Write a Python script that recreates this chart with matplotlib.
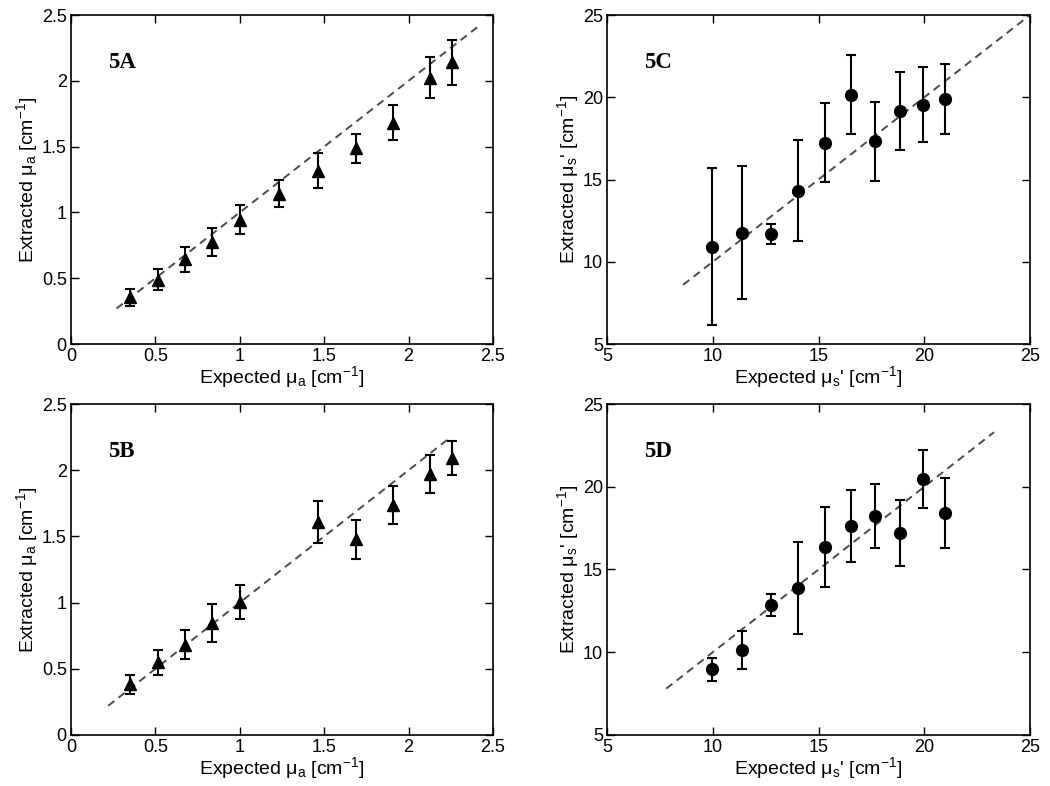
import numpy as np
import matplotlib
matplotlib.use("Agg")
import matplotlib.pyplot as plt

plt.rcParams['font.family'] = ['Liberation Sans', 'DejaVu Sans']
plt.rcParams['mathtext.fontset'] = 'custom'
plt.rcParams['mathtext.rm'] = 'Liberation Sans'
plt.rcParams['mathtext.it'] = 'Liberation Sans'

# Panel 5A: absorption, triangles
a_x = [0.347, 0.513, 0.678, 0.838, 1.0, 1.234, 1.461, 1.688, 1.909, 2.125, 2.259]
a_y = [0.355, 0.488, 0.643, 0.774, 0.944, 1.143, 1.318, 1.487, 1.683, 2.025, 2.142]
a_err = [0.066, 0.081, 0.094, 0.105, 0.111, 0.100, 0.135, 0.109, 0.134, 0.157, 0.170]
a_line = [0.27, 2.42]

# Panel 5B: absorption, triangles
b_x = [0.347, 0.513, 0.678, 0.838, 1.0, 1.461, 1.688, 1.909, 2.125, 2.259]
b_y = [0.384, 0.549, 0.683, 0.848, 1.003, 1.607, 1.480, 1.737, 1.970, 2.095]
b_err = [0.071, 0.095, 0.111, 0.145, 0.129, 0.158, 0.147, 0.147, 0.144, 0.129]
b_line = [0.22, 2.25]

# Panel 5C: scattering, circles
c_x = [9.98, 11.38, 12.75, 14.02, 15.31, 16.54, 17.68, 18.86, 19.93, 20.98]
c_y = [10.91, 11.77, 11.69, 14.33, 17.24, 20.16, 17.34, 19.18, 19.55, 19.88]
c_err = [4.78, 4.06, 0.62, 3.06, 2.40, 2.41, 2.40, 2.36, 2.27, 2.14]
c_line = [8.6, 25.0]

# Panel 5D: scattering, circles
d_x = [9.98, 11.38, 12.75, 14.02, 15.31, 16.54, 17.68, 18.86, 19.93, 20.98]
d_y = [8.96, 10.14, 12.85, 13.89, 16.36, 17.63, 18.25, 17.20, 20.47, 18.41]
d_err = [0.72, 1.13, 0.65, 2.80, 2.39, 2.15, 1.93, 2.00, 1.73, 2.09]
d_line = [7.8, 23.3]

fig = plt.figure(figsize=(10.5, 7.86), dpi=100)

# positions in figure fraction
boxes = {
    "A": [0.0676, 0.5623, 0.4019, 0.4186],
    "C": [0.5781, 0.5623, 0.4029, 0.4186],
    "B": [0.0676, 0.0649, 0.4019, 0.4211],
    "D": [0.5781, 0.0649, 0.4029, 0.4211],
}

panels = [
    ("A", a_x, a_y, a_err, a_line, "^", "mu_a"),
    ("C", c_x, c_y, c_err, c_line, "o", "mu_s"),
    ("B", b_x, b_y, b_err, b_line, "^", "mu_a"),
    ("D", d_x, d_y, d_err, d_line, "o", "mu_s"),
]

for name, x, y, err, line, marker, kind in panels:
    ax = fig.add_axes(boxes[name])
    ax.plot(line, line, linestyle=(0, (4, 2.8)), color='#4a4a4a', linewidth=1.4, zorder=1)
    ax.errorbar(x, y, yerr=err, fmt=marker, color='black', ecolor='black',
                markersize=9 if marker == "^" else 8.5, elinewidth=1.5,
                capsize=3.5, capthick=1.5, zorder=2)

    if kind == "mu_a":
        ax.set_xlim(0, 2.5)
        ax.set_ylim(0, 2.5)
        ax.set_xticks([0, 0.5, 1, 1.5, 2, 2.5])
        ax.set_yticks([0, 0.5, 1, 1.5, 2, 2.5])
        ax.set_xticklabels(["0", "0.5", "1", "1.5", "2", "2.5"])
        ax.set_yticklabels(["0", "0.5", "1", "1.5", "2", "2.5"])
        ax.set_xlabel(r"Expected $\mathregular{\mu_a}$ [cm$\mathregular{^{-1}}$]", fontsize=14, labelpad=-1)
        ax.set_ylabel(r"Extracted $\mathregular{\mu_a}$ [cm$\mathregular{^{-1}}$]", fontsize=14, labelpad=1)
    else:
        ax.set_xlim(5, 25)
        ax.set_ylim(5, 25)
        ax.set_xticks([5, 10, 15, 20, 25])
        ax.set_yticks([5, 10, 15, 20, 25])
        ax.set_xlabel(r"Expected $\mathregular{\mu_s}$' [cm$\mathregular{^{-1}}$]", fontsize=14, labelpad=-1)
        ax.set_ylabel(r"Extracted $\mathregular{\mu_s}$' [cm$\mathregular{^{-1}}$]", fontsize=14, labelpad=1)

    ax.tick_params(direction='in', length=6, width=1, top=True, right=True,
                   labelsize=13, pad=3)
    for s in ax.spines.values():
        s.set_linewidth(1.2)

    ax.text(0.088, 0.857, "5" + name, transform=ax.transAxes, fontsize=16.5,
            fontweight='bold', family='Liberation Serif', va='center', ha='left')

plt.savefig("out.png", dpi=100)
